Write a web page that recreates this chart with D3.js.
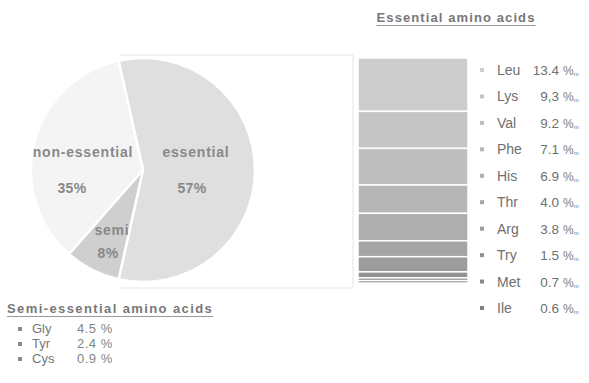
<!DOCTYPE html>
<html>
<head>
<meta charset="utf-8">
<script src="https://cdn.jsdelivr.net/npm/d3@7"></script>
<style>
  html, body { margin: 0; padding: 0; background: #fff; }
  svg { display: block; font-family: "Liberation Sans", Arial, sans-serif; }
</style>
</head>
<body>
<svg id="chart" width="589" height="383"></svg>
<script>
// Amino acid groups (pie)
const groups = ["essential", "semi", "non-essential"];
const groupShares = [57, 8, 35];
const groupColors = ["#dfdfdf", "#cfcfcf", "#f4f4f4"];

// Essential amino acids (stacked bar)
const essentialNames = ["Leu", "Lys", "Val", "Phe", "His", "Thr", "Arg", "Try", "Met", "Ile"];
const essentialValues = [13.4, 9.3, 9.2, 7.1, 6.9, 4.0, 3.8, 1.5, 0.7, 0.6];
const essentialLabels = ["13.4", "9,3", "9.2", "7.1", "6.9", "4.0", "3.8", "1.5", "0.7", "0.6"];
const essentialColors = ["#cdcdcd", "#c5c5c5", "#bebebe", "#b6b6b6", "#aeaeae",
                         "#a5a5a5", "#9c9c9c", "#939393", "#8a8a8a", "#818181"];

// Semi-essential amino acids (list)
const semiNames = ["Gly", "Tyr", "Cys"];
const semiLabels = ["4.5", "2.4", "0.9"];

const svg = d3.select("#chart");

// ---- Pie ----
const cx = 143, cy = 170, r = 112;
const essShare = groupShares[0] / d3.sum(groupShares);
const start = Math.PI / 2 - Math.PI * essShare;   // centre the essential slice at 3 o'clock
const pie = d3.pie().sort(null).value(d => d.v)
  .startAngle(start).endAngle(start + 2 * Math.PI);
const arcs = pie(groups.map((g, i) => ({ g, v: groupShares[i], c: groupColors[i] })));
const arc = d3.arc().innerRadius(0).outerRadius(r);

const pg = svg.append("g").attr("transform", `translate(${cx},${cy})`);
pg.selectAll("path").data(arcs).join("path")
  .attr("d", arc)
  .attr("fill", d => d.data.c)
  .attr("stroke", "#fff")
  .attr("stroke-width", 2.5)
  .attr("stroke-linejoin", "round");

// pie labels (name + percent)
const labelPos = {
  "essential":     [53, -13, 49, 23],
  "non-essential": [-60, -13, -71, 23],
  "semi":          [-31, 65, -35, 88]
};
arcs.forEach(d => {
  const p = labelPos[d.data.g];
  pg.append("text").attr("x", p[0]).attr("y", p[1])
    .attr("text-anchor", "middle")
    .attr("font-size", 14).attr("font-weight", "bold")
    .attr("letter-spacing", 0.8)
    .attr("fill", "#888").text(d.data.g);
  pg.append("text").attr("x", p[2]).attr("y", p[3])
    .attr("text-anchor", "middle")
    .attr("font-size", 14).attr("font-weight", "bold")
    .attr("letter-spacing", 0.4)
    .attr("fill", "#888").text(d.data.v + "%");
});

// ---- Stacked bar of essential amino acids ----
const barX = 358, barW = 110, barTop = 58, barBottom = 283;
const y = d3.scaleLinear().domain([0, d3.sum(essentialValues)]).range([barTop, barBottom]);
const cum = d3.cumsum(essentialValues);
const segs = essentialValues.map((v, i) => ({ y0: cum[i] - v, y1: cum[i], c: essentialColors[i] }));

// connector frame joining the pie split to the bar
const topPt = [cx + r * Math.sin(start), cy - r * Math.cos(start)];
const endAng = start + 2 * Math.PI * essShare;
const botPt = [cx + r * Math.sin(endAng), cy - r * Math.cos(endAng)];
const frameX = 353;
svg.append("path")
  .attr("d", d3.line()([[topPt[0] + 2, barTop - 3], [frameX, barTop - 3], [frameX, barBottom + 5], [botPt[0], barBottom + 5]]))
  .attr("fill", "none").attr("stroke", "#e4e4e4").attr("stroke-width", 1);

svg.append("g").selectAll("rect").data(segs).join("rect")
  .attr("x", barX).attr("width", barW)
  .attr("y", d => y(d.y0)).attr("height", d => Math.max(0.5, y(d.y1) - y(d.y0)))
  .attr("fill", d => d.c)
  .attr("stroke", "#fff").attr("stroke-width", 1.5);

// ---- Essential legend ----
const title1 = svg.append("text").attr("x", 456).attr("y", 22)
  .attr("text-anchor", "middle").attr("font-size", 13).attr("font-weight", "bold")
  .attr("letter-spacing", 1.1).attr("fill", "#777").text("Essential amino acids");
{
  const w = title1.node().getComputedTextLength();
  svg.append("line").attr("x1", 456 - w / 2).attr("x2", 456 + w / 2)
    .attr("y1", 25.5).attr("y2", 25.5).attr("stroke", "#999").attr("stroke-width", 1);
}

const rowY = d3.scalePoint().domain(essentialNames).range([75, 313]);
const lg = svg.append("g");
essentialNames.forEach((n, i) => {
  const yy = rowY(n);
  lg.append("rect").attr("x", 480).attr("y", yy - 7).attr("width", 4).attr("height", 4)
    .attr("fill", essentialColors[i]);
  lg.append("text").attr("x", 497).attr("y", yy).attr("font-size", 14)
    .attr("fill", "#6f6f6f").text(n);
  lg.append("text").attr("x", 559).attr("y", yy).attr("font-size", 13.5)
    .attr("text-anchor", "end").attr("fill", "#6f6f6f").text(essentialLabels[i]);
  const pct = lg.append("text").attr("x", 563).attr("y", yy).attr("font-size", 12)
    .attr("fill", "#7c7c7c");
  pct.append("tspan").text("%");
  pct.append("tspan").attr("font-size", 6).attr("dy", 1).text("m");
});

// ---- Semi-essential legend ----
const title2 = svg.append("text").attr("x", 7).attr("y", 313)
  .attr("font-size", 13).attr("font-weight", "bold")
  .attr("letter-spacing", 1.4).attr("fill", "#777").text("Semi-essential amino acids");
{
  const w = title2.node().getComputedTextLength();
  svg.append("line").attr("x1", 7).attr("x2", 7 + w)
    .attr("y1", 316.5).attr("y2", 316.5).attr("stroke", "#999").attr("stroke-width", 1);
}
const semiY = d3.scalePoint().domain(semiNames).range([333, 363]);
semiNames.forEach((n, i) => {
  const yy = semiY(n);
  svg.append("rect").attr("x", 18).attr("y", yy - 6).attr("width", 4).attr("height", 4)
    .attr("fill", "#8a8a8a");
  svg.append("text").attr("x", 32).attr("y", yy).attr("font-size", 13)
    .attr("fill", "#777").text(n);
  svg.append("text").attr("x", 77).attr("y", yy).attr("font-size", 13)
    .attr("letter-spacing", 0.5)
    .attr("fill", "#858585").text(semiLabels[i] + " %");
});
</script>
</body>
</html>
